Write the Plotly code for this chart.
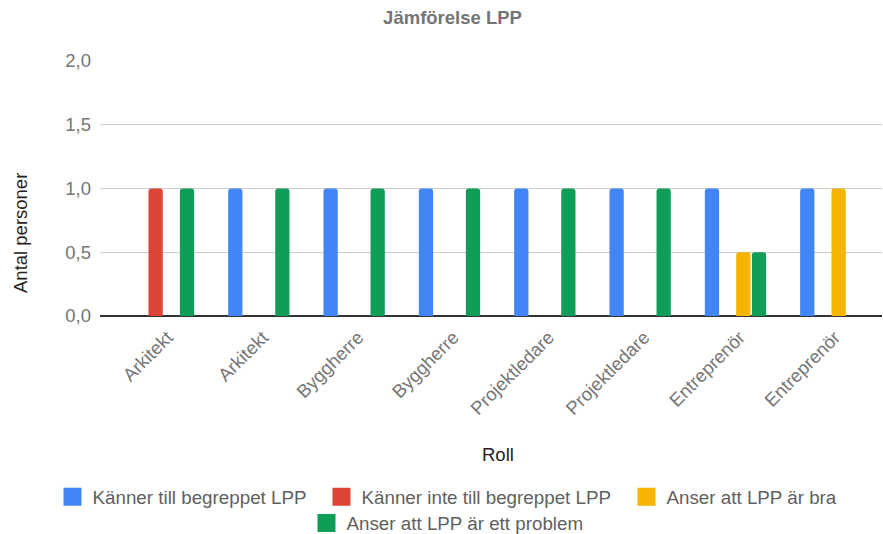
import plotly.graph_objects as go

categories = ["Arkitekt", "Arkitekt", "Byggherre", "Byggherre",
              "Projektledare", "Projektledare", "Entreprenör", "Entreprenör"]
series_names = ["Känner till begreppet LPP", "Känner inte till begreppet LPP",
                "Anser att LPP är bra", "Anser att LPP är ett problem"]
kanner_till = [None, 1, 1, 1, 1, 1, 1, 1]
kanner_inte = [1, None, None, None, None, None, None, None]
anser_bra = [None, None, None, None, None, None, 0.5, 1]
anser_problem = [1, 1, 1, 1, 1, 1, 0.5, None]
colors = ["#4285F4", "#DB4437", "#F4B400", "#0F9D58"]
y_ticks = [0, 0.5, 1.0, 1.5, 2.0]

FONT = "Liberation Sans, Arial, sans-serif"
x_idx = list(range(len(categories)))

fig = go.Figure()
for name, vals, col in zip(series_names,
                           [kanner_till, kanner_inte, anser_bra, anser_problem],
                           colors):
    fig.add_trace(go.Bar(x=x_idx, y=vals, name=name, marker_color=col,
                         marker_line_width=0, showlegend=False))

# one legend per entry so the two-row, centred layout of the reference is kept
legend_ids = ["legend", "legend2", "legend3", "legend4"]
legend_left_px = [52.5, 321.5, 626.5, 306.5]
legend_rows = [-0.635, -0.635, -0.635, -0.738]
for name, col, lg in zip(series_names, colors, legend_ids):
    fig.add_trace(go.Scatter(x=[None], y=[None], mode="markers", name=name,
                             legend=lg,
                             marker=dict(symbol="square", size=16, color=col,
                                         line=dict(color=col, width=2))))

legend_layout = {}
for lg, lx, ly in zip(legend_ids, legend_left_px, legend_rows):
    legend_layout[lg] = dict(orientation="h", xanchor="left", xref="container",
                             x=lx / 883, y=ly, yanchor="top",
                             font=dict(color="#5f5f5f", size=18.8),
                             itemclick=False, bgcolor="rgba(0,0,0,0)")

fig.update_layout(
    width=883, height=534,
    margin=dict(l=100, r=1, t=61, b=218, autoexpand=False),
    paper_bgcolor="white", plot_bgcolor="white",
    font=dict(family=FONT, size=18.5, color="#757575"),
    separators=", ",
    barmode="group", bargap=0.342, bargroupgap=0.09, barcornerradius=3,
    title=dict(text="<b>Jämförelse LPP</b>", x=0.5125, xref="container",
               y=1 - 18 / 534, yanchor="middle", xanchor="center",
               font=dict(family=FONT, size=18.5, color="#757575")),
    xaxis=dict(range=[-0.666, 7.537], tickvals=x_idx, ticktext=categories,
               tickangle=-45, showgrid=False, zeroline=False, showline=False,
               ticklabelstandoff=6, ticklabelshift=4,
               tickfont=dict(color="#757575", size=18.5)),
    yaxis=dict(range=[0, 2], tickvals=y_ticks, tickformat=".1f",
               showgrid=True, gridcolor="#cccccc", gridwidth=1,
               zeroline=True, zerolinecolor="#333333", zerolinewidth=1.5,
               showline=False, ticklabelstandoff=8,
               tickfont=dict(color="#757575", size=18.5)),
    annotations=[
        dict(text="Roll", x=(498 - 100) / 782, y=(316 - 455) / 255,
             xref="paper", yref="paper", showarrow=False,
             xanchor="center", yanchor="middle",
             font=dict(family=FONT, size=18.5, color="#222222")),
        dict(text="Antal personer", x=(20 - 100) / 782, y=(316 - 233) / 255,
             xref="paper", yref="paper", showarrow=False, textangle=-90,
             xanchor="center", yanchor="middle",
             font=dict(family=FONT, size=18.5, color="#222222")),
    ],
    **legend_layout,
)

fig.write_html("out.html")
